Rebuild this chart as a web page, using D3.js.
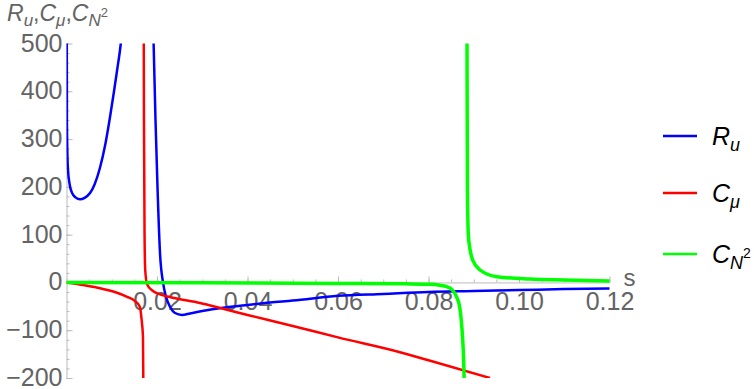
<!DOCTYPE html>
<html>
<head>
<meta charset="utf-8">
<script src="https://cdn.jsdelivr.net/npm/d3@7"></script>
<style>
  body { margin: 0; background: #fff; }
  text { font-family: "Liberation Sans", Arial, sans-serif; }
</style>
</head>
<body>
<div id="app"></div>
<script>
// values, [s, value]
const ruLeft = [[0.00005, 560], [0.0001, 330], [0.0003, 240], [0.0007, 205], [0.0012, 188], [0.002, 178], [0.003, 174], [0.004, 177], [0.0052, 187], [0.0062, 205], [0.0074, 240], [0.0086, 290], [0.0096, 345], [0.0105, 400], [0.0112, 445], [0.012, 500], [0.0126, 560]];
const ruRight = [[0.0192, 520], [0.01967, 340], [0.02011, 200], [0.02066, 62], [0.02133, 0], [0.022, -30], [0.02287, -51], [0.02398, -64], [0.02552, -68], [0.0273, -65], [0.03, -60], [0.0346, -53], [0.04, -47], [0.045, -42], [0.05, -38], [0.06, -28], [0.07, -24], [0.08, -20], [0.09, -18], [0.1, -16], [0.11, -14], [0.12, -12.5]];
const cmuLeft = [[0, 0], [0.004, -6], [0.0074, -12], [0.011, -21], [0.0134, -30], [0.015, -38], [0.0162, -51], [0.0166, -78], [0.0169, -114], [0.01697, -200], [0.01699, -300]];
const cmuRight = [[0.01705, 600], [0.01712, 340], [0.01725, 100], [0.0174, 26], [0.0178, -4], [0.0191, -18], [0.021, -26], [0.0235, -32], [0.0295, -43], [0.0346, -55], [0.04, -68], [0.05, -91], [0.06, -115], [0.0737, -146], [0.08, -163], [0.0936, -200]];
const cn2Left = [[0, 0], [0.03, -0.5], [0.06, -2], [0.075, -3], [0.0803, -4], [0.0825, -6], [0.084, -9], [0.0852, -15], [0.0862, -30], [0.0869, -52], [0.0873, -85], [0.08785, -190], [0.088, -300]];
const cn2Right = [[0.0884, 600], [0.08851, 500], [0.0886, 200], [0.0888, 100], [0.0892, 68], [0.0898, 46], [0.0914, 26], [0.0951, 12], [0.1024, 7], [0.11, 5], [0.12, 3]];

const xTicks = [0.02, 0.04, 0.06, 0.08, 0.1, 0.12];
const yTicks = [-200, -100, 0, 100, 200, 300, 400, 500];

const series = [
  { name: "R", sub: "u", color: "#0000ff", width: 2.5, parts: [ruLeft, ruRight] },
  { name: "C", sub: "μ", color: "#ff0000", width: 2.5, parts: [cmuLeft, cmuRight] },
  { name: "C", sub: "N", sup: "2", color: "#00ff00", width: 3.5, parts: [cn2Left, cn2Right] }
];

const width = 754, height = 389;
const gray = "#646464";

const x = d3.scaleLinear().domain([0, 0.12]).range([66.5, 609.5]);
const y = d3.scaleLinear().domain([-200, 500]).range([378, 43.5]);

const svg = d3.create("svg")
  .attr("width", width)
  .attr("height", height)
  .attr("viewBox", [0, 0, width, height]);

// y axis
svg.append("g")
  .attr("transform", `translate(${x(0)},0)`)
  .call(d3.axisLeft(y).tickValues(d3.range(-200, 501, 20)).tickSize(-3).tickFormat(""))
  .call(g => g.select(".domain").remove())
  .call(g => g.selectAll("line").attr("stroke", "#bbb"));

svg.append("g")
  .attr("transform", `translate(${x(0)},0)`)
  .call(d3.axisLeft(y).tickValues(yTicks).tickSize(-6).tickSizeOuter(0).tickPadding(4).tickFormat(d3.format("d")))
  .call(g => g.select(".domain").attr("stroke", "#bbb"))
  .call(g => g.selectAll("line").attr("stroke", "#bbb"))
  .call(g => g.selectAll("text").attr("fill", gray).attr("font-size", 25).attr("dy", "0.3em"));

// x axis
svg.append("g")
  .attr("transform", `translate(0,${y(0)})`)
  .call(d3.axisBottom(x).tickValues(d3.range(0, 0.1201, 0.005)).tickSize(-3).tickFormat(""))
  .call(g => g.select(".domain").remove())
  .call(g => g.selectAll("line").attr("stroke", "#bbb"));

svg.append("g")
  .attr("transform", `translate(0,${y(0)})`)
  .call(d3.axisBottom(x).tickValues(xTicks).tickSize(-6).tickSizeOuter(0).tickPadding(10).tickFormat(d3.format(".2f")))
  .call(g => g.select(".domain").attr("stroke", "#bbb"))
  .call(g => g.selectAll("line").attr("stroke", "#bbb"))
  .call(g => g.selectAll("text").attr("fill", gray).attr("font-size", 25));

svg.append("text")
  .attr("x", x(0.12) + 14)
  .attr("y", y(0) + 4)
  .attr("fill", gray)
  .attr("font-size", 24)
  .text("s");

// title
const title = svg.append("text")
  .attr("x", 7)
  .attr("y", 21)
  .attr("fill", gray)
  .attr("font-size", 23)
  .attr("font-style", "italic");
title.append("tspan").text("R");
title.append("tspan").attr("dy", 5).attr("font-size", 17).text("u");
title.append("tspan").attr("dy", -5).attr("font-style", "normal").text(",");
title.append("tspan").text("C");
title.append("tspan").attr("dy", 5).attr("font-size", 17).text("μ");
title.append("tspan").attr("dy", -5).attr("font-style", "normal").text(",");
title.append("tspan").text("C");
title.append("tspan").attr("dy", 5).attr("font-size", 17).text("N");
title.append("tspan").attr("dy", -9).attr("font-size", 13).attr("font-style", "normal").text("2");

// curves
svg.append("clipPath").attr("id", "plot")
  .append("rect")
  .attr("x", x(0)).attr("y", y(500))
  .attr("width", x(0.12) - x(0) + 2).attr("height", y(-200) - y(500));

const line = d3.line()
  .x(d => x(d[0]))
  .y(d => y(d[1]))
  .curve(d3.curveMonotoneX);

const curves = svg.append("g").attr("clip-path", "url(#plot)").attr("fill", "none");
series.forEach(s => {
  s.parts.forEach(p => {
    curves.append("path")
      .attr("d", line(p))
      .attr("stroke", s.color)
      .attr("stroke-width", s.width)
      .attr("stroke-linejoin", "round");
  });
});

// legend
const legendY = [136, 193, 254];
series.forEach((s, i) => {
  svg.append("line")
    .attr("x1", 663).attr("x2", 697)
    .attr("y1", legendY[i]).attr("y2", legendY[i])
    .attr("stroke", s.color)
    .attr("stroke-width", 2.5);
  const t = svg.append("text")
    .attr("x", 712)
    .attr("y", legendY[i] + 9)
    .attr("font-size", 25)
    .attr("font-style", "italic")
    .attr("fill", "#000");
  t.append("tspan").text(s.name);
  t.append("tspan").attr("dy", 6).attr("font-size", 18).text(s.sub);
  if (s.sup) t.append("tspan").attr("dy", -11).attr("font-size", 14).attr("font-style", "normal").text(s.sup);
});

document.getElementById("app").append(svg.node());
</script>
</body>
</html>
